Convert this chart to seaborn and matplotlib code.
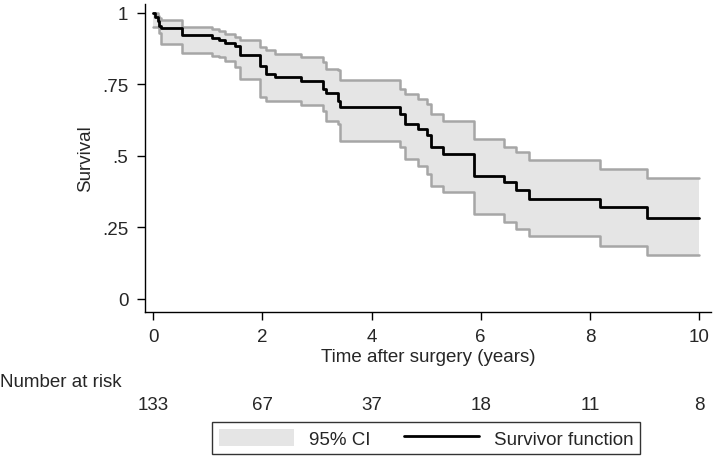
import pandas as pd
import seaborn as sns
import matplotlib.pyplot as plt
from matplotlib.patches import Patch
from matplotlib.lines import Line2D

# Kaplan-Meier estimate (step times in years)
times = [0, 0.04, 0.08, 0.11, 0.14, 0.53, 1.08, 1.2, 1.32, 1.5, 1.6, 1.96, 2.06, 2.24,
         2.7, 3.12, 3.17, 3.38, 3.42, 4.53, 4.62, 4.86, 5.02, 5.08, 5.3, 5.88, 6.43,
         6.64, 6.88, 8.18, 9.04, 10.0]
surv = [1.0, 0.985, 0.97, 0.955, 0.947, 0.921, 0.912, 0.904, 0.894, 0.884, 0.851, 0.814,
        0.787, 0.775, 0.76, 0.735, 0.72, 0.69, 0.67, 0.647, 0.612, 0.594, 0.571, 0.53,
        0.507, 0.431, 0.408, 0.379, 0.35, 0.32, 0.284, 0.284]
lower = [0.95, 0.95, 0.95, 0.93, 0.892, 0.86, 0.85, 0.845, 0.83, 0.81, 0.769, 0.705,
         0.69, 0.69, 0.676, 0.658, 0.623, 0.612, 0.553, 0.53, 0.49, 0.466, 0.437, 0.396,
         0.373, 0.297, 0.268, 0.245, 0.219, 0.186, 0.154, 0.154]
upper = [1.0, 1.0, 0.99, 0.98, 0.973, 0.95, 0.944, 0.935, 0.927, 0.915, 0.903, 0.88,
         0.868, 0.857, 0.845, 0.828, 0.804, 0.8, 0.763, 0.734, 0.717, 0.70, 0.68, 0.647,
         0.623, 0.56, 0.53, 0.513, 0.487, 0.455, 0.423, 0.423]

risk_times = [0, 2, 4, 6, 8, 10]
at_risk = [133, 67, 37, 18, 11, 8]
y_ticks = [0, 0.25, 0.5, 0.75, 1]
y_labels = ['0', '.25', '.5', '.75', '1']

km = pd.DataFrame({'time': times, 'surv': surv, 'lower': lower, 'upper': upper})

sns.set_style('ticks')
plt.rcParams['font.family'] = ['Liberation Sans', 'DejaVu Sans']
fs = 13.5

fig = plt.figure(figsize=(7.14, 4.6), dpi=100)
ax = fig.add_axes([0.203, 0.32, 0.793, 0.669])

# confidence band
ax.fill_between(km['time'], km['lower'], km['upper'], step='post', color='#e5e5e5', lw=0)
sns.lineplot(data=km, x='time', y='lower', drawstyle='steps-post', color='#a6a6a6', lw=1.8, ax=ax)
sns.lineplot(data=km, x='time', y='upper', drawstyle='steps-post', color='#a6a6a6', lw=1.8, ax=ax)
# survivor function
sns.lineplot(data=km, x='time', y='surv', drawstyle='steps-post', color='black', lw=2, ax=ax)

ax.set_xlim(-0.15, 10.22)
ax.set_ylim(-0.045, 1.03)
ax.set_xticks(risk_times)
ax.set_yticks(y_ticks)
ax.set_yticklabels(y_labels)
ax.tick_params(labelsize=fs, length=6, width=1, color='black', pad=6)
ax.set_xlabel('Time after surgery (years)', fontsize=fs, labelpad=2)
ax.set_ylabel('Survival', fontsize=fs, labelpad=6)
for s in ['top', 'right']:
    ax.spines[s].set_visible(False)
for s in ['left', 'bottom']:
    ax.spines[s].set_color('black')
    ax.spines[s].set_linewidth(1)

# number at risk table
fig.text(0.0, 1 - 383 / 460, 'Number at risk', fontsize=fs, ha='left', va='center')
for t, n in zip(risk_times, at_risk):
    ax.text(t, -0.30, str(n), fontsize=fs, ha='center', va='center',
            transform=ax.get_xaxis_transform())

handles = [Patch(facecolor='#e5e5e5', edgecolor='none'),
           Line2D([], [], color='black', lw=2)]
leg = fig.legend(handles, ['95% CI', 'Survivor function'], loc='lower center',
                 bbox_to_anchor=(0.597, 0.01), ncol=2, fontsize=fs, frameon=True,
                 fancybox=False, edgecolor='black', handlelength=4.0, handleheight=1.0,
                 columnspacing=1.8, borderpad=0.35, borderaxespad=0)
leg.get_frame().set_linewidth(1)

fig.savefig('out.png', dpi=100)
